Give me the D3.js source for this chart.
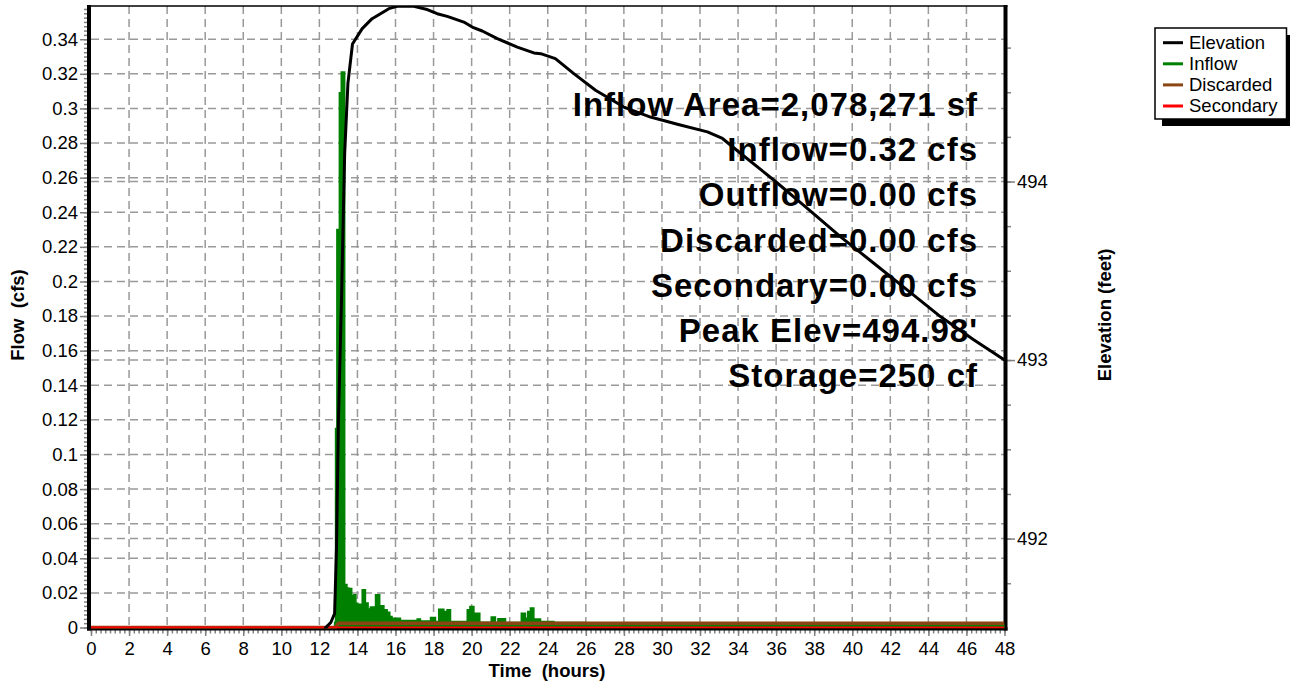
<!DOCTYPE html>
<html>
<head>
<meta charset="utf-8">
<script src="https://cdn.jsdelivr.net/npm/d3@7"></script>
<style>
  body { margin: 0; background: #fff; }
  text { font-family: "Liberation Sans", Arial, sans-serif; }
</style>
</head>
<body>
<svg id="chart"></svg>
<script>
// hours, for the time axis
var timeTicks = [0,2,4,6,8,10,12,14,16,18,20,22,24,26,28,30,32,34,36,38,40,42,44,46,48];
var flowTicks = [0,0.02,0.04,0.06,0.08,0.1,0.12,0.14,0.16,0.18,0.2,0.22,0.24,0.26,0.28,0.3,0.32,0.34];
var elevTicks = [492, 493, 494];

// pond elevation (feet)
var elevTime  = [0, 12.25, 12.32, 12.6, 12.8, 12.9, 13.0, 13.16, 13.33, 13.5, 13.74, 14.25, 14.77, 15.65, 16.09, 16.5, 16.96, 17.67, 18.19, 18.72, 19.59, 20.03, 20.56, 21.35, 22.4, 23.27, 23.63, 24.4, 25.37, 26.51, 28.0, 29.4, 30.81, 32.39, 33.18, 34.14, 35.89, 37.64, 39.39, 41.15, 42.9, 44.65, 46.4, 48];
var elevValue = [491.45, 491.45, 491.50, 491.53, 491.58, 491.95, 492.66, 493.33, 494.16, 494.55, 494.77, 494.856, 494.912, 494.968, 494.981, 494.983, 494.981, 494.963, 494.94, 494.925, 494.893, 494.865, 494.843, 494.80, 494.753, 494.72, 494.716, 494.688, 494.604, 494.511, 494.417, 494.361, 494.321, 494.278, 494.241, 494.157, 494.007, 493.849, 493.69, 493.541, 493.392, 493.242, 493.112, 493.0];

// inflow (cfs), step values starting at each time
var inflowTime  = [0, 12.8, 12.85, 12.92, 13.05, 13.15, 13.33, 13.45, 13.55, 13.7, 13.81, 13.92, 14.02, 14.25, 14.42, 14.56, 14.68, 14.95, 15.17, 15.39, 15.56, 15.7, 15.82, 16.26, 17.14, 17.31, 17.84, 18.1, 18.27, 18.54, 18.71, 18.89, 19.77, 19.91, 20.12, 20.2, 20.43, 21.03, 21.25, 21.38, 21.78, 22.61, 22.83, 22.95, 23.09, 23.27, 23.62, 24.32, 26, 30, 36, 48];
var inflowValue = [0, 0.003, 0.115, 0.23, 0.309, 0.321, 0.0249, 0.0229, 0.0225, 0.0185, 0.019, 0.014, 0.0135, 0.0218, 0.0142, 0.0107, 0.0118, 0.0189, 0.0126, 0.0103, 0.0088, 0.0064, 0.0054, 0.0041, 0.0049, 0.0037, 0.0058, 0.0035, 0.0106, 0.0093, 0.0103, 0.0035, 0.0103, 0.0122, 0.0074, 0.0083, 0.0031, 0.006, 0.0029, 0.005, 0.0029, 0.0083, 0.0054, 0.0093, 0.0113, 0.0049, 0.0035, 0.0029, 0.0025, 0.002, 0.0015, 0.0015];

var discardedTime  = [0, 12.85, 13.0, 48];
var discardedValue = [0, 0, 0.0024, 0.0024];

var secondaryTime  = [0, 48];
var secondaryValue = [0, 0];

var statLines = ["Inflow Area=2,078,271 sf", "Inflow=0.32 cfs", "Outflow=0.00 cfs", "Discarded=0.00 cfs",
                 "Secondary=0.00 cfs", "Peak Elev=494.98'", "Storage=250 cf"];

var legendNames  = ["Elevation", "Inflow", "Discarded", "Secondary"];
var legendColors = ["#000000", "#008000", "#8b4513", "#ff0000"];

var frame = { left: 91, right: 1004.5, top: 6, bottom: 627.5 };

var svg = d3.select("#chart").attr("width", 1294).attr("height", 683);

var xScale = d3.scaleLinear().domain([0, 48]).range([frame.left, frame.right]);
var yFlow  = d3.scaleLinear().domain([0, 0.3592]).range([frame.bottom, frame.top]);
var yElev  = d3.scaleLinear().domain([491.502, 494.983]).range([frame.bottom, frame.top]);

var gridColor = "#999";

// grid
svg.append("g").selectAll("line")
   .data(flowTicks.filter(function(d){ return d > 0; }))
   .enter().append("line")
   .attr("x1", frame.left).attr("x2", frame.right)
   .attr("y1", function(d){ return yFlow(d); }).attr("y2", function(d){ return yFlow(d); })
   .attr("stroke", gridColor).attr("stroke-width", 1.5).attr("stroke-dasharray", "8,5");

svg.append("g").selectAll("line")
   .data(elevTicks)
   .enter().append("line")
   .attr("x1", frame.left).attr("x2", frame.right)
   .attr("y1", function(d){ return yElev(d); }).attr("y2", function(d){ return yElev(d); })
   .attr("stroke", gridColor).attr("stroke-width", 1.5).attr("stroke-dasharray", "8,5");

svg.append("g").selectAll("line")
   .data(timeTicks.filter(function(d){ return d > 0 && d < 48; }))
   .enter().append("line")
   .attr("x1", function(d){ return xScale(d); }).attr("x2", function(d){ return xScale(d); })
   .attr("y1", frame.top).attr("y2", frame.bottom)
   .attr("stroke", gridColor).attr("stroke-width", 1.5).attr("stroke-dasharray", "8,5");

// axis ticks (gray), frame drawn separately
var tickColor = "#808080";
var minorFlow = d3.range(0, 0.359, 0.0025);
var minorTime = d3.range(0, 48.01, 0.25);
var minorElev = d3.range(491.75, 494.98, 0.25);

function styleAxis(g, fontSize) {
  g.select(".domain").remove();
  g.selectAll(".tick line").attr("stroke", tickColor).attr("stroke-width", 1.5);
  g.selectAll("text").attr("fill", "#000").style("font-size", fontSize + "px")
   .style("font-family", "'Liberation Sans', Arial, sans-serif");
}

svg.append("g").attr("transform", "translate(" + (frame.left - 2) + ",0)")
   .call(d3.axisLeft(yFlow).tickValues(minorFlow).tickSize(5).tickFormat(""))
   .call(styleAxis, 18.5);
svg.append("g").attr("transform", "translate(" + (frame.left - 2) + ",0)")
   .call(d3.axisLeft(yFlow).tickValues(flowTicks).tickSize(9).tickPadding(2)
         .tickFormat(function(d){ return String(d); }))
   .call(styleAxis, 18.5);

svg.append("g").attr("transform", "translate(0," + (frame.bottom + 2.5) + ")")
   .call(d3.axisBottom(xScale).tickValues(minorTime).tickSize(3.5).tickFormat(""))
   .call(styleAxis, 18.5);
svg.append("g").attr("transform", "translate(0," + (frame.bottom + 2.5) + ")")
   .call(d3.axisBottom(xScale).tickValues(timeTicks).tickSize(6).tickPadding(6)
         .tickFormat(function(d){ return String(d); }))
   .call(styleAxis, 18.5);

svg.append("g").attr("transform", "translate(" + (frame.right + 2.5) + ",0)")
   .call(d3.axisRight(yElev).tickValues(minorElev).tickSize(4).tickFormat(""))
   .call(styleAxis, 18.5);
svg.append("g").attr("transform", "translate(" + (frame.right + 2.5) + ",0)")
   .call(d3.axisRight(yElev).tickValues(elevTicks).tickSize(8).tickPadding(2)
         .tickFormat(function(d){ return String(d); }))
   .call(styleAxis, 18.5);

// frame
svg.append("line").attr("x1", frame.left).attr("x2", frame.right + 3).attr("y1", frame.top).attr("y2", frame.top)
   .attr("stroke", "#000").attr("stroke-width", 1.5);
svg.append("line").attr("x1", frame.left - 2).attr("x2", frame.left - 2).attr("y1", frame.top - 1).attr("y2", frame.bottom + 3)
   .attr("stroke", "#000").attr("stroke-width", 4);
svg.append("line").attr("x1", frame.left - 4).attr("x2", frame.right + 3).attr("y1", frame.bottom + 1.5).attr("y2", frame.bottom + 1.5)
   .attr("stroke", "#000").attr("stroke-width", 3);
svg.append("line").attr("x1", frame.right + 1).attr("x2", frame.right + 1).attr("y1", frame.top - 1).attr("y2", frame.bottom + 3)
   .attr("stroke", "#000").attr("stroke-width", 4);

// data
svg.append("clipPath").attr("id", "plotClip").append("rect")
   .attr("x", frame.left).attr("y", frame.top)
   .attr("width", frame.right - frame.left).attr("height", frame.bottom - frame.top + 1);

var plot = svg.append("g").attr("clip-path", "url(#plotClip)");

var inflowArea = d3.area()
   .x(function(d, i){ return xScale(inflowTime[i]); })
   .y0(yFlow(0))
   .y1(function(d){ return yFlow(d); })
   .curve(d3.curveStepAfter);
plot.append("path").datum(inflowValue)
    .attr("d", inflowArea)
    .attr("fill", "#008000").attr("stroke", "#008000").attr("stroke-width", 1.5);

var flowLine = function(times) {
  return d3.line()
    .x(function(d, i){ return xScale(times[i]); })
    .y(function(d){ return yFlow(d); });
};

plot.append("path").datum(discardedValue)
    .attr("d", flowLine(discardedTime))
    .attr("fill", "none").attr("stroke", "#8b4513").attr("stroke-width", 3.5);

plot.append("path").datum(secondaryValue)
    .attr("d", flowLine(secondaryTime))
    .attr("fill", "none").attr("stroke", "#ff0000").attr("stroke-width", 2);

var elevLine = d3.line()
   .x(function(d, i){ return xScale(elevTime[i]); })
   .y(function(d){ return yElev(d); });
plot.append("path").datum(elevValue)
    .attr("d", elevLine)
    .attr("fill", "none").attr("stroke", "#000").attr("stroke-width", 3)
    .attr("stroke-linejoin", "round");

// summary text
svg.append("g").selectAll("text")
   .data(statLines)
   .enter().append("text")
   .attr("x", 978)
   .attr("y", function(d, i){ return 116 + i * 45.2; })
   .attr("text-anchor", "end")
   .style("font-size", "33px").style("font-weight", "bold").style("letter-spacing", "1px")
   .text(function(d){ return d; });

// axis titles
svg.append("text").attr("transform", "translate(24,315) rotate(-90)")
   .attr("text-anchor", "middle").style("font-size", "18.5px").style("font-weight", "bold")
   .style("white-space", "pre").text("Flow  (cfs)");
svg.append("text").attr("transform", "translate(1111,315) rotate(-90)")
   .attr("text-anchor", "middle").style("font-size", "18.5px").style("font-weight", "bold")
   .style("white-space", "pre").text("Elevation (feet)");
svg.append("text").attr("x", 547).attr("y", 677)
   .attr("text-anchor", "middle").style("font-size", "18.5px").style("font-weight", "bold")
   .style("white-space", "pre").text("Time  (hours)");

// legend
var legend = svg.append("g");
legend.append("rect").attr("x", 1162).attr("y", 35).attr("width", 128).attr("height", 91).attr("fill", "#000");
legend.append("rect").attr("x", 1155).attr("y", 28).attr("width", 131.5).attr("height", 91)
      .attr("fill", "#fff").attr("stroke", "#000").attr("stroke-width", 1.5);
var items = legend.selectAll("g.item").data(legendNames).enter().append("g").attr("class", "item")
      .attr("transform", function(d, i){ return "translate(0," + (42.7 + i * 21.1) + ")"; });
items.append("line").attr("x1", 1163).attr("x2", 1183).attr("y1", 0).attr("y2", 0)
     .attr("stroke", function(d, i){ return legendColors[i]; }).attr("stroke-width", 3);
items.append("text").attr("x", 1189).attr("y", 6.3).style("font-size", "18.5px")
     .text(function(d){ return d; });
</script>
</body>
</html>
